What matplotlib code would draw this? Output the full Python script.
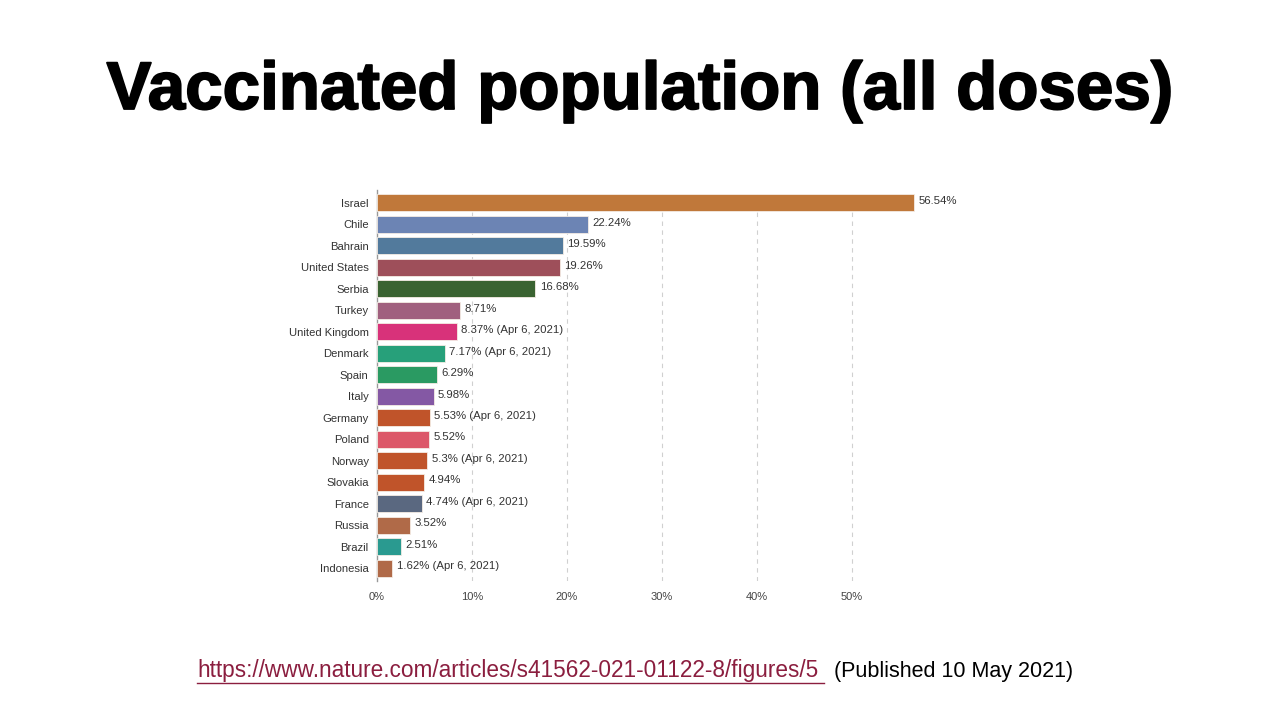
import matplotlib
matplotlib.use("Agg")
import matplotlib.pyplot as plt
import matplotlib.patheffects as pe

countries = ["Israel", "Chile", "Bahrain", "United States", "Serbia", "Turkey",
             "United Kingdom", "Denmark", "Spain", "Italy", "Germany", "Poland",
             "Norway", "Slovakia", "France", "Russia", "Brazil", "Indonesia"]
values = [56.54, 22.24, 19.59, 19.26, 16.68, 8.71, 8.37, 7.17, 6.29, 5.98,
          5.53, 5.52, 5.3, 4.94, 4.74, 3.52, 2.51, 1.62]
notes = ["", "", "", "", "", "", " (Apr 6, 2021)", " (Apr 6, 2021)", "", "",
         " (Apr 6, 2021)", "", " (Apr 6, 2021)", "", " (Apr 6, 2021)", "", "",
         " (Apr 6, 2021)"]
colors = ["#C0783A", "#6C84B4", "#527A9C", "#9E4F5A", "#3A6331", "#A0607E",
          "#D8327A", "#27A07A", "#2A9A62", "#8458A4", "#C0542A", "#DC5868",
          "#C0542A", "#C0542A", "#5A6880", "#B06A48", "#2A9A90", "#B06A48"]
xticks = [0, 10, 20, 30, 40, 50]

plt.rcParams['font.family'] = ['Liberation Sans', 'DejaVu Sans']

fig = plt.figure(figsize=(12.8, 7.2), dpi=100)
ax = fig.add_axes([377 / 1280, 1 - 581 / 720, 570 / 1280, 391 / 720])

ypos = list(range(len(countries)))
ax.barh(ypos, values, height=0.8, color=colors, edgecolor="#f4ece4", linewidth=0.6, zorder=3)

for y, v, n in zip(ypos, values, notes):
    label = "{:g}%".format(v) + n
    ax.text(v + 0.45, y - 0.08, label, va="center", ha="left", fontsize=8.2, color="#333333")

ax.set_xlim(0, 60)
ax.set_ylim(len(countries) - 0.4, -0.6)
ax.set_yticks(ypos)
ax.set_yticklabels(countries, fontsize=8.1, color="#333333")
ax.set_xticks(xticks)
ax.set_xticklabels(["{}%".format(t) for t in xticks], fontsize=8, color="#444444")
ax.tick_params(axis="both", length=0)
ax.tick_params(axis="y", pad=6)
ax.tick_params(axis="x", pad=8)
for t in xticks[1:]:
    ax.axvline(t, color="#d0d0d0", linestyle=(0, (4, 4)), linewidth=0.8, zorder=1)
for s in ["top", "right", "bottom"]:
    ax.spines[s].set_visible(False)
ax.spines["left"].set_color("#999999")
ax.spines["left"].set_linewidth(1.0)
ax.set_facecolor("white")

fig.text(0.5, 1 - 92 / 720, "Vaccinated population (all doses)", ha="center", va="center",
         fontsize=48.5, fontweight="bold", color="black",
         path_effects=[pe.withStroke(linewidth=1.3, foreground="black")])

fig.text(197 / 1280, 1 - 671 / 720, "https://www.nature.com/articles/s41562-021-01122-8/figures/5",
         ha="left", va="center", fontsize=16.3, color="#8B1E3F")
fig.text(834 / 1280, 1 - 671 / 720, "(Published 10 May 2021)", ha="left", va="center",
         fontsize=15.5, color="black")
fig.add_artist(plt.Line2D([197 / 1280, 824 / 1280], [1 - 683 / 720, 1 - 683 / 720],
                          color="#8B1E3F", linewidth=1.0))

fig.savefig("out.png", dpi=100, facecolor="white")
